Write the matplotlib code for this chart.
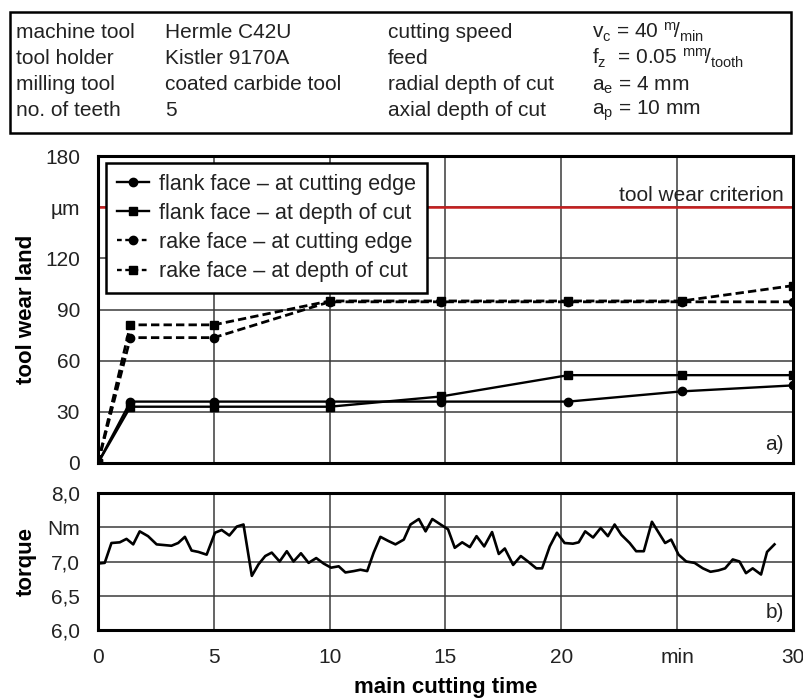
import matplotlib
matplotlib.use("Agg")
import matplotlib.pyplot as plt
from matplotlib.patches import Rectangle
from matplotlib.lines import Line2D

plt.rcParams['font.family'] = ['Liberation Sans', 'DejaVu Sans']
plt.rcParams['mathtext.fontset'] = 'custom'
plt.rcParams['mathtext.rm'] = 'Liberation Sans'
plt.rcParams['mathtext.it'] = 'Liberation Sans'

# ------------------------------------------------------------
# data
# ------------------------------------------------------------
t_wear = [0, 1.4, 5, 10, 14.8, 20.3, 25.2, 30]
flank_edge = [0, 36, 36, 36, 36, 36, 42, 45.5]
flank_depth = [0, 33, 33, 33, 39, 51.5, 51.5, 51.5]
rake_edge = [0, 73.5, 73.5, 94.5, 94.5, 94.5, 94.5, 94.5]
rake_depth = [0, 81, 81, 95, 95, 95, 95, 104]
wear_criterion = 150

t_torque = [0, 0.29, 0.58, 0.94, 1.23, 1.52, 1.80, 2.16, 2.53, 3.17, 3.46, 3.75,
            4.04, 4.33, 4.69, 5.05, 5.34, 5.67, 5.99, 6.28, 6.64, 6.93, 7.22,
            7.50, 7.84, 8.15, 8.44, 8.76, 9.09, 9.42, 9.74, 10.06, 10.39, 10.68,
            11.04, 11.33, 11.62, 11.90, 12.19, 12.53, 12.84, 13.20, 13.49, 13.85,
            14.14, 14.43, 14.79, 15.11, 15.40, 15.72, 16.05, 16.34, 16.67, 17.01,
            17.30, 17.56, 17.92, 18.25, 18.56, 18.92, 19.17, 19.50, 19.81, 20.14,
            20.50, 20.75, 21.03, 21.37, 21.70, 22.01, 22.30, 22.59, 22.95, 23.23,
            23.56, 23.91, 24.24, 24.48, 24.74, 25.06, 25.39, 25.75, 26.11, 26.44,
            26.78, 27.07, 27.40, 27.69, 27.97, 28.26, 28.62, 28.88, 29.20]
torque = [6.97, 6.98, 7.27, 7.28, 7.33, 7.25, 7.44, 7.37, 7.25, 7.23, 7.27, 7.36,
          7.16, 7.14, 7.10, 7.42, 7.46, 7.38, 7.51, 7.54, 6.79, 6.96, 7.08,
          7.13, 7.00, 7.15, 7.00, 7.12, 6.98, 7.05, 6.97, 6.91, 6.93, 6.84,
          6.86, 6.88, 6.86, 7.13, 7.36, 7.30, 7.25, 7.32, 7.54, 7.62,
          7.44, 7.62, 7.54, 7.47, 7.20, 7.28, 7.21, 7.37, 7.22, 7.43,
          7.11, 7.19, 6.95, 7.08, 7.00, 6.90, 6.90, 7.22, 7.42, 7.27,
          7.26, 7.28, 7.44, 7.35, 7.49, 7.37, 7.54, 7.39, 7.27, 7.15,
          7.15, 7.58, 7.40, 7.27, 7.32, 7.10, 7.00, 6.98, 6.90, 6.85,
          6.87, 6.90, 7.03, 7.00, 6.83, 6.90, 6.81, 7.14, 7.25]

x_ticks = [0, 5, 10, 15, 20, 25, 30]
x_labels = ['0', '5', '10', '15', '20', 'min', '30']
wear_ticks = [0, 30, 60, 90, 120, 150, 180]
wear_labels = ['0', '30', '60', '90', '120', 'µm', '180']
torque_ticks = [6.0, 6.5, 7.0, 7.5, 8.0]
torque_labels = ['6,0', '6,5', '7,0', 'Nm', '8,0']

header = [
    ["machine tool", "Hermle C42U", "cutting speed", r"v$_\mathrm{c}$ = 40 $^\mathrm{m}\!/_\mathrm{min}$"],
    ["tool holder", "Kistler 9170A", "feed", r"f$_\mathrm{z}$  = 0.05 $^\mathrm{mm}\!/_\mathrm{tooth}$"],
    ["milling tool", "coated carbide tool", "radial depth of cut", r"a$_\mathrm{e}$ = 4 mm"],
    ["no. of teeth", "5", "axial depth of cut", r"a$_\mathrm{p}$ = 10 mm"],
]

W, H = 804, 698
fig = plt.figure(figsize=(W / 100, H / 100), dpi=100)

# header table
fig.patches.append(Rectangle((10 / W, 1 - 133 / H), 781 / W, 121 / H,
                             transform=fig.transFigure, fill=False,
                             edgecolor='black', linewidth=1.8))
col_x = [16, 165, 388, 592]
row_y = [32, 58, 85, 111]
for r, row in enumerate(header):
    for c, txt in enumerate(row):
        fig.text(col_x[c] / W, 1 - row_y[r] / H, txt, fontsize=15,
                 ha='left', va='center', color='#222222')

left, right = 98, 793
ax1 = fig.add_axes([left / W, 1 - 463 / H, (right - left) / W, (463 - 156) / H])
ax2 = fig.add_axes([left / W, 1 - 630 / H, (right - left) / W, (630 - 493) / H])

for ax in (ax1, ax2):
    ax.set_xlim(0, 30)
    ax.set_xticks(x_ticks)
    ax.grid(True, color='#3a3a3a', linewidth=1.1)
    ax.set_axisbelow(True)
    ax.tick_params(length=0, labelsize=15, labelcolor='#222222')
    ax.tick_params(axis='y', pad=13)
    ax.tick_params(axis='x', pad=13)
    for s in ax.spines.values():
        s.set_linewidth(2.2)

# wear plot
ax1.set_ylim(0, 180)
ax1.set_yticks(wear_ticks)
ax1.set_yticklabels(wear_labels)
ax1.set_xticklabels([])
ax1.axhline(wear_criterion, color='#c81e1e', linewidth=1.8, zorder=2)
ax1.text(29.6, wear_criterion + 1.5, "tool wear criterion", ha='right', va='bottom',
         fontsize=15, color='#222222')
ax1.plot(t_wear, flank_edge, '-', color='black', marker='o', ms=6, lw=1.7, zorder=3)
ax1.plot(t_wear, flank_depth, '-', color='black', marker='s', ms=6, lw=1.7, zorder=3)
ax1.plot(t_wear, rake_edge, '--', color='black', marker='o', ms=6, lw=2, dashes=(3, 1.5), zorder=3)
ax1.plot(t_wear, rake_depth, '--', color='black', marker='s', ms=6, lw=2, dashes=(3, 1.5), zorder=3)
ax1.set_ylabel("tool wear land", fontsize=16, fontweight='bold')
ax1.text(29.6, 5, "a)", ha='right', va='bottom', fontsize=15, color='#222222')

handles = [
    Line2D([], [], color='black', ls='-', marker='o', ms=6, lw=1.7),
    Line2D([], [], color='black', ls='-', marker='s', ms=6, lw=1.7),
    Line2D([], [], color='black', ls='--', marker='o', ms=6, lw=1.7, dashes=(2, 1.5)),
    Line2D([], [], color='black', ls='--', marker='s', ms=6, lw=1.7, dashes=(2, 1.5)),
]
names = ["flank face – at cutting edge", "flank face – at depth of cut",
         "rake face – at cutting edge", "rake face – at depth of cut"]
leg = ax1.legend(handles, names, loc='upper left', bbox_to_anchor=(0.012, 0.978),
                 fontsize=15.5, frameon=True, fancybox=False, framealpha=1,
                 edgecolor='black', handlelength=1.5, handletextpad=0.45,
                 labelspacing=0.38, borderpad=0.5, borderaxespad=0)
leg.get_frame().set_linewidth(1.8)
for t in leg.get_texts():
    t.set_color('#222222')

# torque plot
ax2.set_ylim(6.0, 8.0)
ax2.set_yticks(torque_ticks)
ax2.set_yticklabels(torque_labels)
ax2.set_xticklabels(x_labels)
ax2.plot(t_torque, torque, color='black', lw=1.9, zorder=3)
ax2.set_ylabel("torque", fontsize=16, fontweight='bold')
ax2.set_xlabel("main cutting time", fontsize=16, fontweight='bold')
ax2.text(29.6, 6.12, "b)", ha='right', va='bottom', fontsize=15, color='#222222')

ax1.yaxis.set_label_coords(-0.088, 0.5)
ax2.yaxis.set_label_coords(-0.088, 0.5)
ax2.xaxis.set_label_coords(0.5, -0.34)

fig.savefig("out.png", dpi=100)
